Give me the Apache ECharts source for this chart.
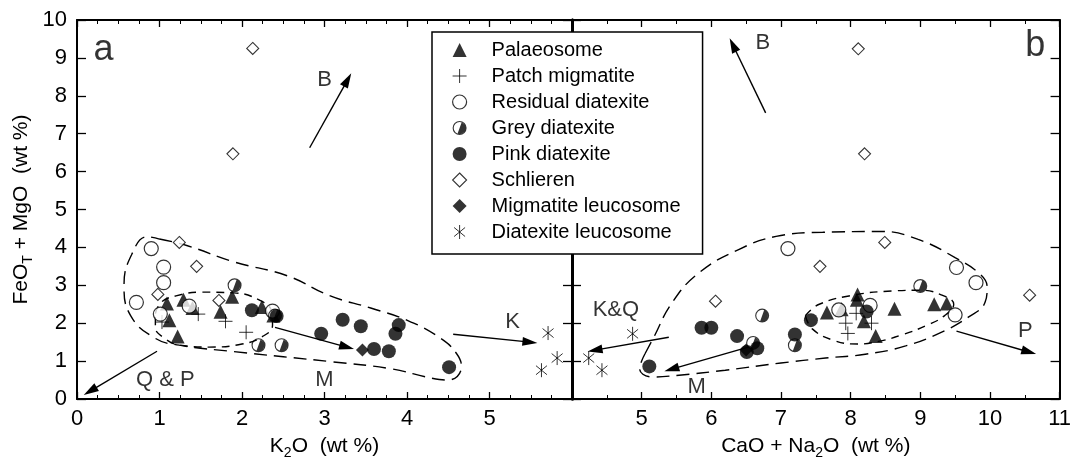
<!DOCTYPE html>
<html><head><meta charset="utf-8">
<script src="https://cdn.jsdelivr.net/npm/echarts@6/dist/echarts.min.js"></script>
<style>html,body{margin:0;padding:0;background:#fff}#c{width:1074px;height:465px}</style>
</head><body><div id="c"></div>
<script>
// ---------- DATA ----------
// Panel a: [K2O, FeOT+MgO]; Panel b: [CaO+Na2O, FeOT+MgO]
const legendNames = ['Palaeosome','Patch migmatite','Residual diatexite','Grey diatexite','Pink diatexite','Schlieren','Migmatite leucosome','Diatexite leucosome'];

const palaeosomeA = [[1.09,2.52],[1.12,2.08],[1.22,1.65],[1.29,2.62],[1.40,2.40],[1.74,2.30],[1.88,2.70],[2.24,2.43],[2.38,2.20]];
const palaeosomeB = [[7.66,2.28],[7.87,2.37],[8.09,2.62],[8.10,2.76],[8.19,2.05],[8.36,1.66],[8.63,2.38],[9.20,2.50],[9.38,2.52]];

const patchA = [[1.03,2.03],[1.47,2.24],[1.80,2.05],[2.05,1.76]];
const patchB = [[7.93,2.00],[7.96,1.73],[8.08,2.26],[8.30,2.00]];

const residualA = [[0.90,3.97],[1.05,3.48],[1.05,3.07],[0.72,2.55],[1.01,2.24],[1.36,2.45],[2.37,2.32]];
const residualB = [[7.10,3.97],[9.52,3.47],[9.80,3.07],[9.50,2.22],[8.28,2.47],[7.83,2.35]];

const greyA = [[1.91,3.00],[2.20,1.42],[2.48,1.42],[2.40,2.20]];
const greyB = [[9.00,2.98],[7.20,1.42],[6.60,1.48],[6.73,2.20]];

const pinkA = [[2.12,2.34],[2.42,2.19],[2.96,1.72],[3.22,2.09],[3.44,1.92],[3.90,1.95],[3.86,1.72],[3.60,1.32],[3.78,1.26],[4.51,0.84]];
const pinkB = [[5.86,1.88],[6.00,1.88],[6.37,1.66],[6.51,1.24],[6.66,1.34],[5.11,0.86],[7.20,1.70],[7.43,2.08],[8.23,2.31]];

const schlierenA = [[2.13,9.25],[1.89,6.47],[1.24,4.13],[1.45,3.50],[0.98,2.76],[1.72,2.60]];
const schlierenB = [[8.11,9.24],[8.20,6.47],[8.49,4.13],[7.56,3.50],[10.57,2.74],[6.06,2.58]];

const migLeucoA = [[3.46,1.29]];
const migLeucoB = [[6.50,1.29]];

const diaLeucoA = [[5.71,1.74],[5.82,1.08],[5.63,0.76]];
const diaLeucoB = [[4.87,1.72],[4.24,1.08],[4.43,0.76]];

// envelopes (dashed fields)
const outerEnvA = [[1.00,4.22],[1.33,4.05],[1.90,3.62],[2.55,3.25],[3.07,2.72],[3.56,2.40],[4.01,2.07],[4.41,1.60],[4.60,1.20],[4.66,0.85],[4.50,0.50],[4.30,0.55],[3.80,0.80],[3.10,0.98],[1.90,1.25],[1.24,1.42],[0.95,1.60],[0.65,2.20],[0.57,3.00],[0.66,3.80],[0.85,4.28],[1.00,4.22]];
const innerEnvA = [[0.95,2.25],[1.02,2.55],[1.20,2.72],[1.50,2.82],[1.90,2.80],[2.20,2.62],[2.36,2.30],[2.37,1.95],[2.25,1.65],[2.00,1.45],[1.60,1.37],[1.25,1.42],[1.05,1.62],[0.95,1.90],[0.95,2.25]];
const outerEnvB = [[5.05,1.20],[5.16,1.58],[5.44,2.55],[5.83,3.34],[6.40,3.95],[6.93,4.29],[7.60,4.40],[8.44,4.42],[8.97,4.21],[9.50,3.73],[9.86,3.29],[9.96,2.95],[9.93,2.55],[9.69,2.16],[9.30,1.76],[8.79,1.40],[8.21,1.18],[7.64,1.08],[7.00,0.95],[6.20,0.76],[5.50,0.62],[5.15,0.58],[4.97,0.80],[5.00,1.00],[5.05,1.20]];
const innerEnvB = [[7.35,2.20],[7.55,2.50],[8.07,2.75],[8.60,2.85],[9.00,2.87],[9.30,2.75],[9.48,2.50],[9.35,2.20],[9.10,1.95],[8.75,1.70],[8.40,1.52],[8.10,1.45],[7.75,1.55],[7.45,1.85],[7.35,2.20]];

// arrows [from, to]
const arrowsA = [[[2.82,6.63],[3.28,8.42]],[[0.97,1.26],[0.16,0.21]],[[2.40,1.89],[3.27,1.37]],[[4.56,1.71],[5.49,1.50]]];
const arrowsB = [[[6.78,7.55],[6.31,9.34]],[[5.39,1.63],[4.33,1.29]],[[6.53,1.37],[5.43,0.79]],[[9.52,1.79],[10.56,1.24]]];

// annotation texts [text, x, y]
const notesA = [['B',3.00,8.42],['Q & P',1.07,0.50],['M',3.00,0.50],['K',5.28,2.03]];
const notesB = [['B',6.74,9.39],['K&Q',4.63,2.34],['M',5.79,0.32],['P',10.51,1.79]];
const panelA = [['a',0.32,9.21]];
const panelB = [['b',10.65,9.32]];

const xTicksA = [0,6,1];   // min, max, interval
const xTicksB = [4,11,1];
const yTicks = [0,10,1];

// ---------- STYLE ----------
const FONT = '"Liberation Sans", Arial, Helvetica, sans-serif';
const PLUS = 'path://M0 7 L14 7 M7 0 L7 14';
const STAR = 'path://M7 0 L7 14 M1.5 2.5 L12.5 11.5 M12.5 2.5 L1.5 11.5';
const HALF = 'path://M20 10 A10 10 0 1 1 0 10 A10 10 0 1 1 20 10 Z M18.4 10 A8.4 8.4 0 1 0 1.6 10 A8.4 8.4 0 1 0 18.4 10 Z M12.87 2.1 A8.4 8.4 0 0 1 7.13 17.9 Z';
const styleMap = {
  'Palaeosome': {symbol:'triangle', size:14, it:{color:'#000'}},
  'Patch migmatite': {symbol:PLUS, size:14, it:{color:'rgba(0,0,0,0)', borderColor:'#000', borderWidth:1}},
  'Residual diatexite': {symbol:'circle', size:14, it:{color:'#fff', borderColor:'#000', borderWidth:1.2}},
  'Grey diatexite': {symbol:HALF, size:14, it:{color:'#000'}},
  'Pink diatexite': {symbol:'circle', size:14, it:{color:'#000'}},
  'Schlieren': {symbol:'diamond', size:12, it:{color:'#fff', borderColor:'#000', borderWidth:1.1}},
  'Migmatite leucosome': {symbol:'diamond', size:13, it:{color:'#000'}},
  'Diatexite leucosome': {symbol:STAR, size:14, it:{color:'rgba(0,0,0,0)', borderColor:'#000', borderWidth:1}}
};
const seriesData = {
  'Palaeosome':[palaeosomeA,palaeosomeB],
  'Patch migmatite':[patchA,patchB],
  'Residual diatexite':[residualA,residualB],
  'Grey diatexite':[greyA,greyB],
  'Pink diatexite':[pinkA,pinkB],
  'Schlieren':[schlierenA,schlierenB],
  'Migmatite leucosome':[migLeucoA,migLeucoB],
  'Diatexite leucosome':[diaLeucoA,diaLeucoB]
};

function xAxisDef(grid, ticks, pos, minorSplit, showLabel, hideVal, name) {
  return {
    type:'value', gridIndex:grid, position:pos, min:ticks[0], max:ticks[1], interval:ticks[2],
    axisLine:{onZero:false, lineStyle:{color:'#000', width:2}},
    axisTick:{inside:true, length:7, lineStyle:{color:'#000', width:1.3}},
    minorTick:{show:true, splitNumber:minorSplit, length:4, lineStyle:{color:'#000', width:1}},
    splitLine:{show:false}, minorSplitLine:{show:false},
    axisLabel:{show:showLabel, fontSize:22, color:'#000', fontFamily:FONT, margin:9,
      formatter: v => (v === hideVal ? '' : String(v))},
    name: name || '', nameLocation:'middle', nameGap:33,
    nameTextStyle:{fontFamily:FONT, color:'#000', rich:{
      n:{fontSize:21, lineHeight:28, fontFamily:FONT, color:'#000', verticalAlign:'middle'},
      sub:{fontSize:14, lineHeight:14, fontFamily:FONT, color:'#000', verticalAlign:'bottom'}}}
  };
}
function yAxisDef(grid, pos, showLabel, lineW, name) {
  return {
    type:'value', gridIndex:grid, position:pos, min:yTicks[0], max:yTicks[1], interval:yTicks[2],
    axisLine:{onZero:false, lineStyle:{color:'#000', width:lineW}},
    axisTick:{inside:true, length:9, lineStyle:{color:'#000', width:1.3}},
    splitLine:{show:false},
    axisLabel:{show:showLabel, fontSize:22, color:'#000', fontFamily:FONT, margin:10},
    name: name || '', nameLocation:'middle', nameGap:42,
    nameTextStyle:{fontFamily:FONT, color:'#000', rich:{
      n:{fontSize:21, lineHeight:28, fontFamily:FONT, color:'#000', verticalAlign:'middle'},
      sub:{fontSize:14, lineHeight:14, fontFamily:FONT, color:'#000', verticalAlign:'bottom'}}}
  };
}

const series = [];
const panels = [{x:0, y:0}, {x:2, y:2}];
// envelopes
[[outerEnvA, innerEnvA],[outerEnvB, innerEnvB]].forEach((pair, p) => {
  pair.forEach((env, k) => {
    series.push({type:'line', xAxisIndex:panels[p].x, yAxisIndex:panels[p].y, data:env, smooth:0.45,
      showSymbol:false, symbol:'none', silent:true, z:1,
      lineStyle:{color:'#000', width:1.4, type: k === 0 ? [13,7] : [8,6]}});
  });
});
// data series
legendNames.forEach(n => {
  const st = styleMap[n];
  seriesData[n].forEach((d, p) => {
    series.push({type:'scatter', name:n, xAxisIndex:panels[p].x, yAxisIndex:panels[p].y, data:d,
      symbol:st.symbol, symbolSize:st.size, symbolKeepAspect:true, itemStyle:st.it, z:3});
  });
});
// arrows + notes
[[arrowsA, notesA, panelA],[arrowsB, notesB, panelB]].forEach((set, p) => {
  const [arrows, notes, pl] = set;
  series.push({type:'scatter', xAxisIndex:panels[p].x, yAxisIndex:panels[p].y, silent:true, z:5,
    symbolSize:1, itemStyle:{color:'rgba(0,0,0,0)'},
    data: notes.map(a => ({name:a[0], value:[a[1], a[2]]})),
    label:{show:true, position:'inside', formatter:'{b}', fontSize:22, color:'#000', fontFamily:FONT},
    markLine:{silent:true, symbol:['none','triangle'], symbolSize:[9,15], label:{show:false},
      lineStyle:{color:'#000', width:1.4, type:'solid'},
      data: arrows.map(a => [{coord:a[0]}, {coord:a[1]}])}
  });
  series.push({type:'scatter', xAxisIndex:panels[p].x, yAxisIndex:panels[p].y, silent:true, z:5,
    symbolSize:1, itemStyle:{color:'rgba(0,0,0,0)'},
    data: pl.map(a => ({name:a[0], value:[a[1], a[2]]})),
    label:{show:true, position:'inside', formatter:'{b}', fontSize:36, color:'#000', fontFamily:FONT}
  });
});

const option = {
  backgroundColor:'#fff',
  animation:false,
  grid:[{left:77, top:20, width:495, height:380}, {left:572, top:20, width:493, height:380}],
  xAxis:[
    xAxisDef(0, xTicksA, 'bottom', 4, true, 6, '{n|K}{sub|2}{n|O  (wt %)}'),
    xAxisDef(0, xTicksA, 'top', 4, false, null, ''),
    xAxisDef(1, xTicksB, 'bottom', 2, true, 4, '{n|CaO + Na}{sub|2}{n|O  (wt %)}'),
    xAxisDef(1, xTicksB, 'top', 2, false, null, '')
  ],
  yAxis:[
    yAxisDef(0, 'left', true, 2, '{n|FeO}{sub|T}{n| + MgO  (wt %)}'),
    yAxisDef(0, 'right', false, 3, ''),
    yAxisDef(1, 'left', false, 3, ''),
    yAxisDef(1, 'right', false, 2, '')
  ],
  legend:{
    left:432, top:32, orient:'vertical', backgroundColor:'#fff', borderColor:'#000', borderWidth:1.5,
    padding:[8,22,12,20], itemGap:6, itemWidth:14, itemHeight:14, selectedMode:false, z:10,
    textStyle:{fontSize:20, fontFamily:FONT, color:'#000', lineHeight:20, padding:[0,0,0,20]},
    data: legendNames.map(n => ({name:n, icon:styleMap[n].symbol, itemStyle:styleMap[n].it}))
  },
  series: series
};
const chart = echarts.init(document.getElementById('c'), null, {renderer:'canvas'});
chart.setOption(option);
</script></body></html>
